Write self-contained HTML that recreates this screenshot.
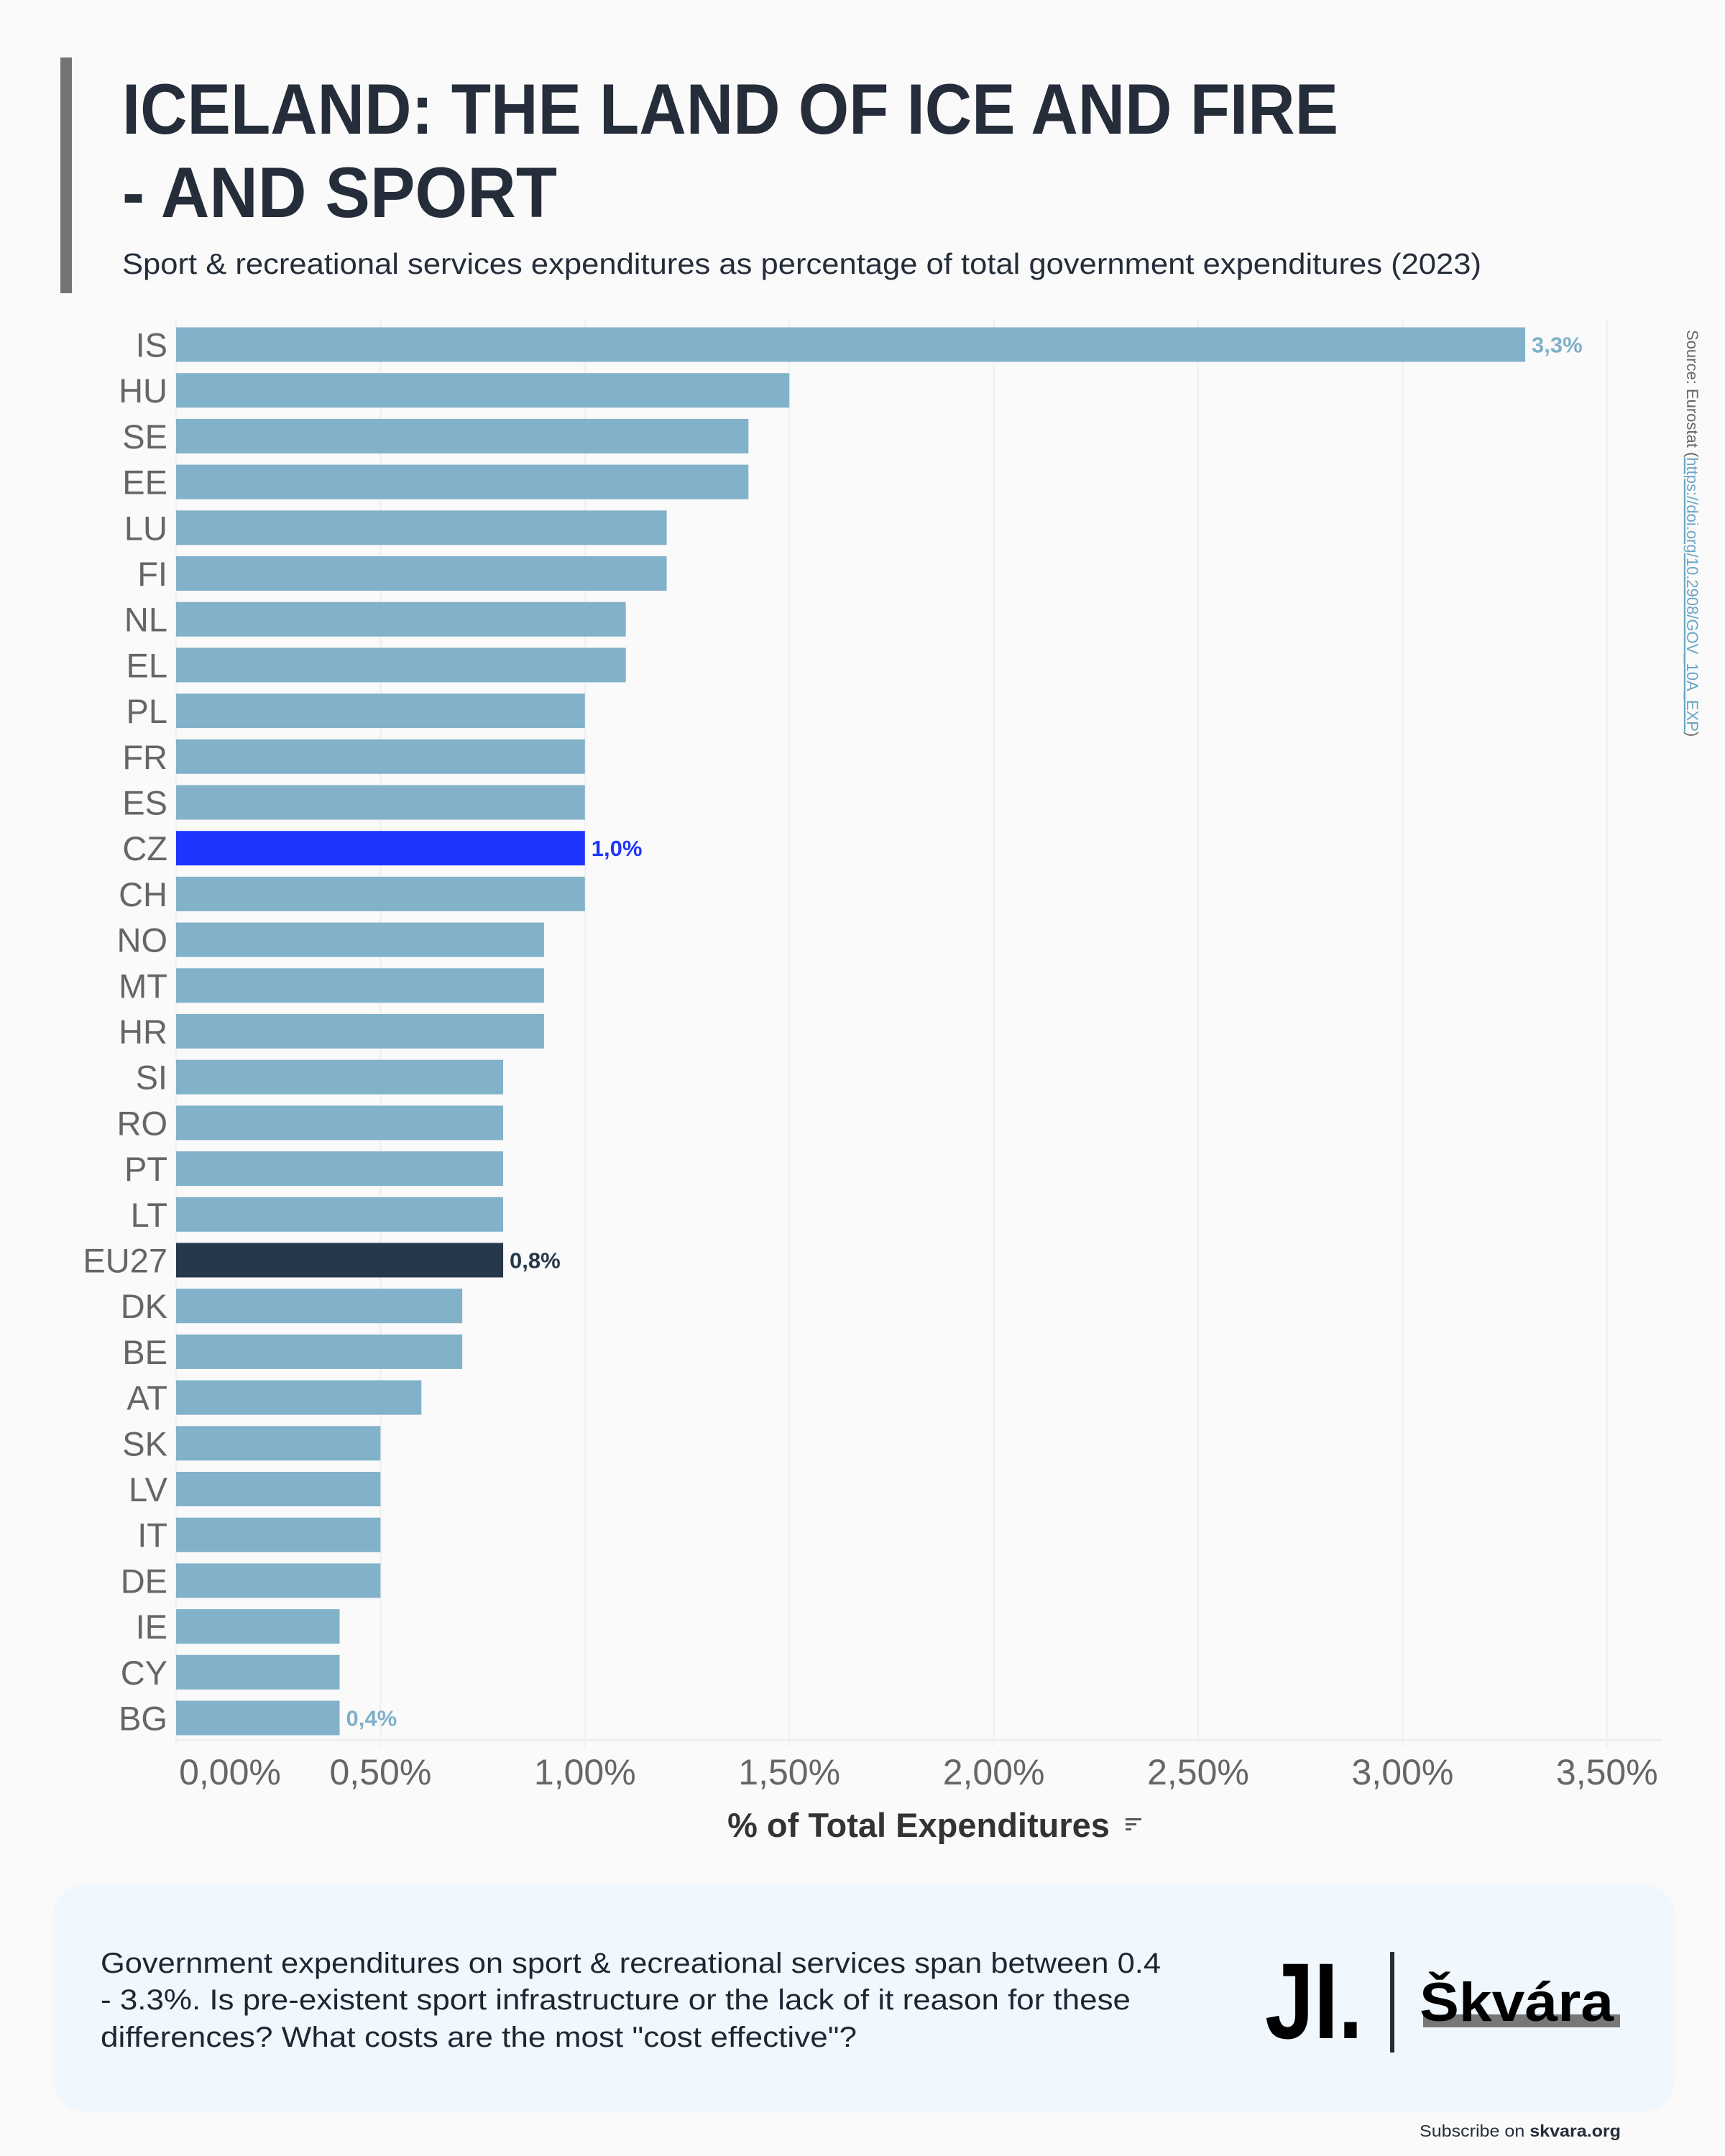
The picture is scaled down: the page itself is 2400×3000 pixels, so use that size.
<!DOCTYPE html>
<html><head><meta charset="utf-8"><style>
html,body{margin:0;padding:0;background:#fafafa;}
svg{display:block;font-family:"Liberation Sans",sans-serif;}
</style></head><body>
<svg id="chart" width="2400" height="3000" viewBox="0 0 2400 3000" xmlns="http://www.w3.org/2000/svg">
<rect x="0" y="0" width="2400" height="3000" fill="#fafafa"/>
<rect x="84" y="80" width="16" height="328" fill="#747474"/>
<text x="170" y="186" font-size="99" font-weight="bold" fill="#252d3a" textLength="1692" lengthAdjust="spacingAndGlyphs">ICELAND: THE LAND OF ICE AND FIRE</text>
<text x="170" y="302" font-size="99" font-weight="bold" fill="#252d3a" textLength="605" lengthAdjust="spacingAndGlyphs">- AND SPORT</text>
<text x="170" y="381" font-size="41" fill="#252d3a" textLength="1891" lengthAdjust="spacingAndGlyphs">Sport &amp; recreational services expenditures as percentage of total government expenditures (2023)</text>
<g id="grid"></g>
<g id="bars"></g>
<g id="ylabels"></g>
<g id="xaxis"></g>
<text x="1278" y="2556" font-size="47" font-weight="bold" fill="#333" text-anchor="middle">% of Total Expenditures</text>
<g fill="#555">
<rect x="1566" y="2530" width="22" height="3"/><rect x="1566" y="2537" width="15" height="3"/><rect x="1566" y="2544" width="8" height="3"/>
</g>
<text transform="translate(2347,459) rotate(90)" font-size="22" fill="#666">Source: Eurostat (<tspan fill="#6aa6c4" text-decoration="underline">https://doi.org/10.2908/GOV_10A_EXP</tspan>)</text>
<rect x="73" y="2622" width="2258" height="316" rx="45" fill="#f0f7fd"/>
<g font-size="40" fill="#1f2533">
<text x="140" y="2745" textLength="1475" lengthAdjust="spacingAndGlyphs">Government expenditures on sport &amp; recreational services span between 0.4</text>
<text x="140" y="2796" textLength="1433" lengthAdjust="spacingAndGlyphs">- 3.3%. Is pre-existent sport infrastructure or the lack of it reason for these</text>
<text x="140" y="2848" textLength="1052" lengthAdjust="spacingAndGlyphs">differences? What costs are the most "cost effective"?</text>
</g>
<g>
<text x="1760" y="2836" font-size="150" font-weight="bold" fill="#000" textLength="136" lengthAdjust="spacingAndGlyphs">JI.</text>
<rect x="1934" y="2716" width="6" height="140" fill="#252d3a"/>
<rect x="1980" y="2803" width="274" height="18" fill="#777"/>
<text x="1975" y="2812" font-size="76" font-weight="bold" fill="#000" textLength="270" lengthAdjust="spacingAndGlyphs">Škvára</text>
</g>
<text x="1975" y="2973" font-size="23" fill="#252d3a" textLength="280" lengthAdjust="spacingAndGlyphs">Subscribe on <tspan font-weight="bold">skvara.org</tspan></text>
</svg>
<script>
const categories = ["IS","HU","SE","EE","LU","FI","NL","EL","PL","FR","ES","CZ","CH","NO","MT","HR","SI","RO","PT","LT","EU27","DK","BE","AT","SK","LV","IT","DE","IE","CY","BG"];
const values = [3.3,1.5,1.4,1.4,1.2,1.2,1.1,1.1,1.0,1.0,1.0,1.0,1.0,0.9,0.9,0.9,0.8,0.8,0.8,0.8,0.8,0.7,0.7,0.6,0.5,0.5,0.5,0.5,0.4,0.4,0.4];
const tickValues = [0,0.5,1,1.5,2,2.5,3,3.5];
const tickLabels = ["0,00%","0,50%","1,00%","1,50%","2,00%","2,50%","3,00%","3,50%"];
const labeledCats = ["IS","CZ","EU27","BG"];

const NS = "http://www.w3.org/2000/svg";
const X0 = 245, PX_PER = 568.8, Y0 = 455.5, STEP = 63.7, BH = 48;
const xScale = v => X0 + v * PX_PER;
const yScale = i => Y0 + i * STEP;
function mk(tag, attrs, parent){ const e=document.createElementNS(NS,tag); for(const k in attrs) e.setAttribute(k,attrs[k]); parent.appendChild(e); return e; }
const grid=document.getElementById('grid'), bars=document.getElementById('bars'), yl=document.getElementById('ylabels'), xa=document.getElementById('xaxis');
const plotTop = 444, plotBottom = 2421, plotRight = 2312;
tickValues.forEach((v,i)=>{
  const x=xScale(v);
  const g=mk('line',{x1:x,x2:x,y1:plotTop,y2:plotBottom,stroke:'#f1f1f1','stroke-width':3},grid);
  
  
  const tk=mk('line',{x1:x,x2:x,y1:plotBottom,y2:plotBottom+10,stroke:'#f1f1f1','stroke-width':2},xa);
  
  
  const t=mk('text',{x: i===0 ? x+75 : x, y:2483,'font-size':50,fill:'#666','text-anchor':'middle'},xa);
  t.textContent=tickLabels[i];
  
  
});
const ax=mk('line',{x1:X0,x2:plotRight,y1:plotBottom,y2:plotBottom,stroke:'#efefef','stroke-width':3},xa);


categories.forEach((c,i)=>{
  const y=yScale(i), v=values[i];
  let fill='#82b1ca', lab='#7fb0c8';
  if(c==='CZ'){fill='#1f35ff';lab='#1f35ff';}
  if(c==='EU27'){fill='#263849';lab='#263849';}
  const r=mk('rect',{x:X0,y:y,width:xScale(v)-X0,height:BH,fill:fill},bars);
  
  
  const t=mk('text',{x:233,y:y+BH/2+17,'font-size':47,fill:'#666','text-anchor':'end'},yl);
  t.textContent=c;
  
  
  if(labeledCats.includes(c)){
    const vl=mk('text',{x:xScale(v)+9,y:y+BH/2+11,'font-size':31,'font-weight':'bold',fill:lab},bars);
    vl.textContent=v.toFixed(1).replace('.',',')+'%';
    
    
  }
});
</script>
</body></html>
